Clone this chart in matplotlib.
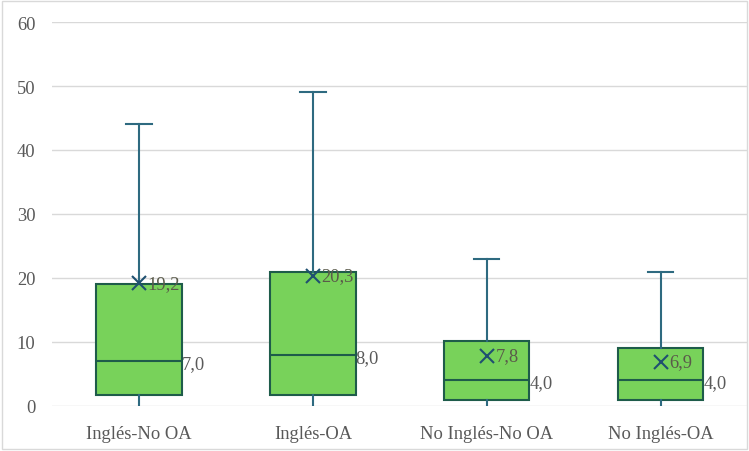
import matplotlib.pyplot as plt
from matplotlib.patches import Rectangle

categories = ['Inglés-No OA', 'Inglés-OA', 'No Inglés-No OA', 'No Inglés-OA']
whis_lo = [0, 0, 0, 0]
q1 = [1.7, 1.7, 0.9, 0.9]
medians = [7.0, 8.0, 4.0, 4.0]
q3 = [19.0, 21.0, 10.1, 9.1]
whis_hi = [44, 49, 23, 21]
means = [19.2, 20.3, 7.8, 6.9]

plt.rcParams['font.family'] = ['Liberation Serif', 'DejaVu Serif']

fig = plt.figure(figsize=(7.49, 4.52), dpi=100)
ax = fig.add_axes([0.0694, 0.0996, 0.929, 0.8495])

stats = []
for i, c in enumerate(categories):
    stats.append(dict(label=c, whislo=whis_lo[i], q1=q1[i], med=medians[i],
                      q3=q3[i], whishi=whis_hi[i], mean=means[i], fliers=[]))

pos = list(range(len(categories)))
bp = ax.bxp(stats, positions=pos, widths=0.49, patch_artist=True, showmeans=True,
            capwidths=0.145,
            boxprops=dict(facecolor='#78d25a', edgecolor='#1e5c4a', linewidth=1.5),
            medianprops=dict(color='#1e5c4a', linewidth=1.5),
            whiskerprops=dict(color='#2e6a80', linewidth=1.5),
            capprops=dict(color='#2e6a80', linewidth=1.5),
            meanprops=dict(marker='x', markersize=10, markeredgecolor='#1f5070',
                           markeredgewidth=1.5))
# hide lower caps (sit on the zero line)
for k, cap in enumerate(bp['caps']):
    if k % 2 == 0:
        cap.set_visible(False)

for i in pos:
    ax.text(i + 0.05, means[i], f'{means[i]:.1f}'.replace('.', ','), fontsize=13.3,
            color='#5a5a4a', va='center', ha='left')
    ax.text(i + 0.245, medians[i] - 0.4, f'{medians[i]:.1f}'.replace('.', ','),
            fontsize=13.3, color='#5a5a5a', va='center', ha='left')

ax.set_xlim(-0.5, 3.5)
ax.set_ylim(0, 60)
ax.set_yticks(range(0, 61, 10))
ax.set_xticks(pos)
ax.set_xticklabels(categories)
ax.tick_params(length=0, labelsize=13.3, labelcolor='#595959')
ax.tick_params(axis='x', pad=14)
ax.tick_params(axis='y', pad=12)
ax.grid(axis='y', color='#d9d9d9', linewidth=1)
ax.set_axisbelow(True)
for s in ax.spines.values():
    s.set_visible(False)

fig.patches.append(Rectangle((0.003, 0.004), 0.994, 0.992, transform=fig.transFigure,
                             fill=False, edgecolor='#d9d9d9', linewidth=1))

plt.savefig('out.png', dpi=100)
